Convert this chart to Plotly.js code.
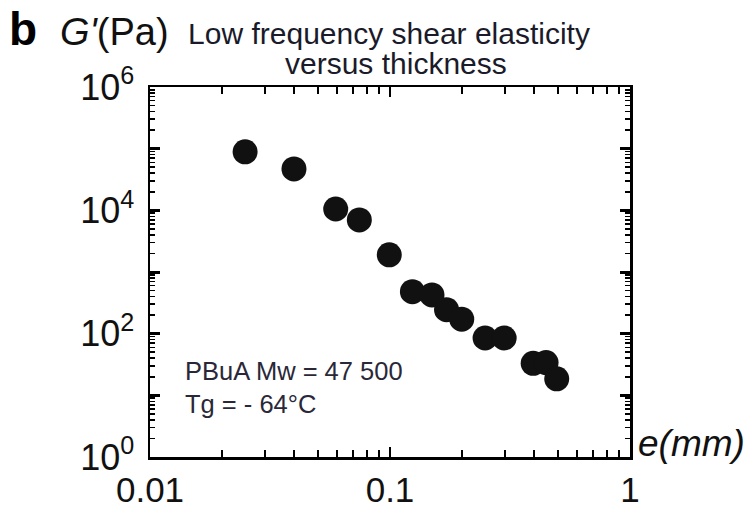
<!DOCTYPE html>
<html>
<head>
<meta charset="utf-8">
<script src="https://cdn.plot.ly/plotly-3.0.1.min.js"></script>
<style>html,body{margin:0;padding:0;background:#fff;} #chart{width:755px;height:514px;}</style>
</head>
<body>
<div id="chart"></div>
<script>
// Thickness e (mm)
const thickness = [0.0249, 0.0398, 0.0594, 0.0745, 0.0993, 0.124, 0.1496, 0.172, 0.199, 0.249, 0.299, 0.395, 0.447, 0.495];
// Low frequency shear elasticity G' (Pa)
const gPrime = [89000, 47000, 10500, 7000, 1900, 480, 425, 245, 172, 85, 85, 33, 34, 18.5];

const yMajorVals = [1, 10, 100, 1e3, 1e4, 1e5, 1e6];
const yMajorText = ["10<sup>0</sup>", "", "10<sup>2</sup>", "", "10<sup>4</sup>", "", "10<sup>6</sup>"];
const xMajorVals = [0.01, 0.1, 1];
const xMajorText = ["0.01", "0.1", "1"];

function minorTicks(lo, hi) {
  const out = [];
  for (let d = lo; d < hi; d++) {
    for (let m = 2; m <= 9; m++) out.push(m * Math.pow(10, d));
  }
  return out;
}

const FONT = "Liberation Sans, Arial, Helvetica, sans-serif";
const INK = "#111";
const TITLE_INK = "#1a1a2a";

const trace = {
  x: thickness,
  y: gPrime,
  type: "scatter",
  mode: "markers",
  marker: {size: 25, color: INK, line: {width: 0}},
  hoverinfo: "x+y"
};

const layout = {
  width: 755,
  height: 514,
  margin: {l: 150, r: 125, t: 87, b: 57},
  paper_bgcolor: "#fff",
  plot_bgcolor: "#fff",
  showlegend: false,
  font: {family: FONT, color: INK},
  xaxis: {
    type: "log",
    range: [-2, 0],
    tickmode: "array",
    tickvals: xMajorVals,
    ticktext: xMajorText,
    ticks: "inside",
    ticklen: 10,
    tickwidth: 2,
    tickcolor: "#000",
    showline: true,
    linecolor: "#000",
    linewidth: 2.5,
    mirror: "allticks",
    showgrid: false,
    zeroline: false,
    tickfont: {size: 35, family: FONT, color: INK},
    ticklabelstandoff: 0,
    minor: {tickmode: "array", tickvals: minorTicks(-2, 0), ticks: "inside", ticklen: 7, tickwidth: 2, tickcolor: "#000", showgrid: false}
  },
  yaxis: {
    type: "log",
    range: [0, 6],
    tickmode: "array",
    tickvals: yMajorVals,
    ticktext: yMajorText,
    ticks: "inside",
    ticklen: 10,
    tickwidth: 3,
    tickcolor: "#000",
    showline: true,
    linecolor: "#000",
    linewidth: 2.5,
    mirror: "allticks",
    showgrid: false,
    zeroline: false,
    tickfont: {size: 36, family: FONT, color: INK},
    ticklabelstandoff: 6,
    minor: {tickmode: "array", tickvals: minorTicks(0, 6), ticks: "inside", ticklen: 5, tickwidth: 1.5, tickcolor: "#000", showgrid: false}
  },
  title: {
    text: "Low frequency shear elasticity",
    font: {size: 30, family: FONT, color: TITLE_INK},
    x: 389 / 755,
    xanchor: "center",
    xref: "container",
    y: 1 - 33 / 514,
    yref: "container",
    yanchor: "middle"
  },
  annotations: [
    {text: "versus thickness", xref: "paper", yref: "paper", x: (396 - 150) / 480, y: 1 + (87 - 63) / 370, xanchor: "center", yanchor: "middle",
     showarrow: false, font: {size: 30, family: FONT, color: TITLE_INK}},
    {text: "<b>b</b>", xref: "paper", yref: "paper", x: -143 / 480, y: 1 + 30 / 370, xanchor: "left", yanchor: "bottom",
     showarrow: false, font: {size: 46, family: FONT, color: "#000"}},
    {text: "<i>G'</i>(Pa)", xref: "paper", yref: "paper", x: -92 / 480, y: 1 + 32 / 370, xanchor: "left", yanchor: "bottom",
     showarrow: false, font: {size: 38, family: FONT, color: INK}},
    {text: "<i>e(mm)</i>", xref: "paper", yref: "paper", x: 1 + 6 / 480, y: -9 / 370, xanchor: "left", yanchor: "bottom",
     showarrow: false, font: {size: 37, family: FONT, color: INK}},
    {text: "PBuA Mw = 47 500<br>Tg = - 64°C", xref: "paper", yref: "paper", x: 33 / 480, y: (457 - 420) / 370, xanchor: "left", yanchor: "bottom",
     align: "left", showarrow: false, font: {size: 25.5, family: FONT, color: "#2a2838"}}
  ]
};

Plotly.newPlot("chart", [trace], layout, {displayModeBar: false, staticPlot: true});
</script>
</body>
</html>
